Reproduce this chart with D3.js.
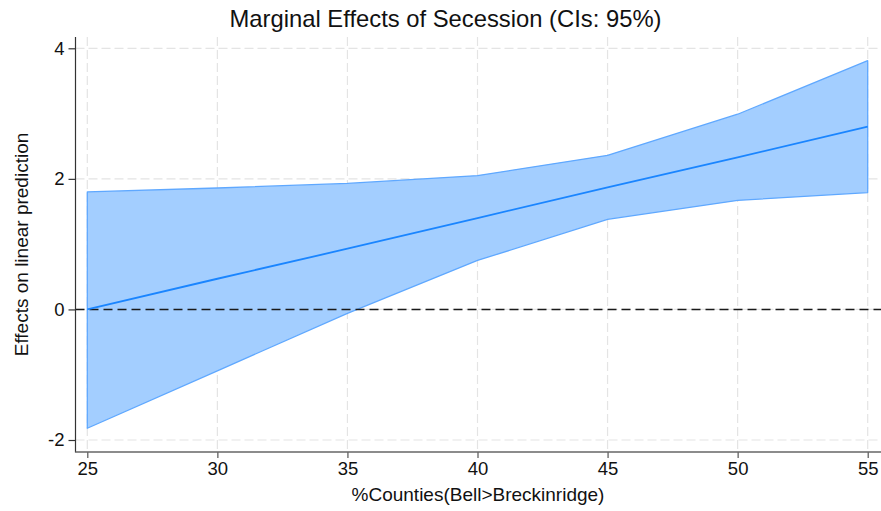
<!DOCTYPE html>
<html>
<head>
<meta charset="utf-8">
<script src="https://cdn.jsdelivr.net/npm/d3@7/dist/d3.min.js"></script>
<style>
  html, body { margin: 0; padding: 0; background: #fff; }
  svg { display: block; font-family: "Liberation Sans", Arial, sans-serif; }
</style>
</head>
<body>
<svg id="chart" width="881" height="511"></svg>
<script>
// ---- data ----
const xValues = [25, 30, 35, 40, 45, 50, 55];
const effect  = [0.00, 0.47, 0.93, 1.40, 1.87, 2.33, 2.80];
const ciLower = [-1.82, -0.94, -0.06, 0.75, 1.38, 1.67, 1.79];
const ciUpper = [1.80, 1.86, 1.93, 2.05, 2.36, 2.99, 3.81];
const xTicks = [25, 30, 35, 40, 45, 50, 55];
const yTicks = [-2, 0, 2, 4];
const titleText = "Marginal Effects of Secession (CIs: 95%)";
const xTitle = "%Counties(Bell>Breckinridge)";
const yTitle = "Effects on linear prediction";

const rows = xValues.map((x, i) => ({ x, m: effect[i], lo: ciLower[i], hi: ciUpper[i] }));

const svg = d3.select("#chart");
const plotLeft = 75.5, plotRight = 881, plotTop = 37, plotBottom = 452;

const x = d3.scaleLinear().domain([25, 55]).range([87.3, 867.7]);
const y = d3.scaleLinear().domain([-2, 4]).range([440, 48.3]);
const fmt = d => (d < 0 ? "-" + Math.abs(d) : String(d));

// grid
const grid = svg.append("g").attr("stroke", "#e4e4e4").attr("stroke-width", 1.2)
  .attr("stroke-dasharray", "9,4").attr("fill", "none");
grid.selectAll("line.gx").data(xTicks).join("line").attr("class", "gx")
  .attr("x1", d => x(d)).attr("x2", d => x(d)).attr("y1", plotTop).attr("y2", plotBottom);
grid.selectAll("line.gy").data(yTicks).join("line").attr("class", "gy")
  .attr("x1", plotLeft).attr("x2", plotRight).attr("y1", d => y(d)).attr("y2", d => y(d));

// CI area
const area = d3.area().x(d => x(d.x)).y0(d => y(d.lo)).y1(d => y(d.hi));
svg.append("path").datum(rows).attr("d", area)
  .attr("fill", "rgb(163,206,255)").attr("stroke", "rgb(95,168,255)").attr("stroke-width", 1.3)
  .attr("stroke-linejoin", "round");

// zero reference line
svg.append("line").attr("x1", plotLeft).attr("x2", plotRight)
  .attr("y1", y(0)).attr("y2", y(0))
  .attr("stroke", "#1a1a1a").attr("stroke-width", 1.4).attr("stroke-dasharray", "9,5");

// effect line
const line = d3.line().x(d => x(d.x)).y(d => y(d.m));
svg.append("path").datum(rows).attr("d", line)
  .attr("fill", "none").attr("stroke", "#1a85ff").attr("stroke-width", 1.8);

// axes
const xAxis = svg.append("g").attr("transform", `translate(0,${plotBottom})`)
  .call(d3.axisBottom(x).tickValues(xTicks).tickFormat(fmt).tickSize(6).tickSizeOuter(0).tickPadding(4));
xAxis.select(".domain").remove();
xAxis.selectAll(".tick line").attr("stroke", "#555").attr("stroke-width", 1.2);
xAxis.selectAll(".tick text").attr("font-size", 18.5).attr("fill", "#111")
  .attr("font-family", "Liberation Sans, Arial, sans-serif");

const yAxis = svg.append("g").attr("transform", `translate(${plotLeft},0)`)
  .call(d3.axisLeft(y).tickValues(yTicks).tickFormat(fmt).tickSize(7).tickSizeOuter(0).tickPadding(4));
yAxis.select(".domain").remove();
yAxis.selectAll(".tick line").attr("stroke", "#333").attr("stroke-width", 1.2);
yAxis.selectAll(".tick text").attr("font-size", 18.5).attr("fill", "#111")
  .attr("font-family", "Liberation Sans, Arial, sans-serif");

svg.append("line").attr("x1", plotLeft).attr("x2", plotLeft).attr("y1", plotTop).attr("y2", plotBottom + 0.6)
  .attr("stroke", "#333").attr("stroke-width", 1.2);
svg.append("line").attr("x1", plotLeft).attr("x2", plotRight).attr("y1", plotBottom).attr("y2", plotBottom)
  .attr("stroke", "#666").attr("stroke-width", 1.6);

// titles
svg.append("text").attr("x", 445.5).attr("y", 27).attr("text-anchor", "middle")
  .attr("font-size", 23.8).attr("fill", "#111").text(titleText);
svg.append("text").attr("x", 478).attr("y", 501).attr("text-anchor", "middle")
  .attr("font-size", 19).attr("fill", "#111").text(xTitle);
svg.append("text").attr("transform", `translate(28,${(plotTop + plotBottom) / 2}) rotate(-90)`)
  .attr("text-anchor", "middle").attr("font-size", 19).attr("fill", "#111").text(yTitle);
</script>
</body>
</html>
